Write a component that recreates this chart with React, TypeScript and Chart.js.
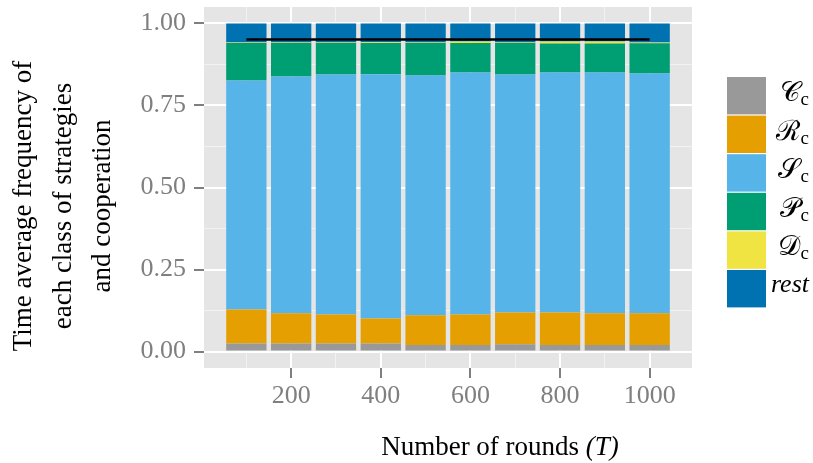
import React, { useEffect, useRef } from 'react';
import { Chart, registerables } from 'chart.js';

Chart.register(...registerables);

// ---- data ----
const rounds = [100, 200, 300, 400, 500, 600, 700, 800, 900, 1000];
const seriesC = [0.025, 0.025, 0.025, 0.025, 0.02, 0.02, 0.022, 0.02, 0.02, 0.02];
const seriesR = [0.103, 0.092, 0.088, 0.076, 0.091, 0.093, 0.097, 0.099, 0.097, 0.097];
const seriesS = [0.698, 0.721, 0.7315, 0.744, 0.7305, 0.7376, 0.7255, 0.7316, 0.7336, 0.7306];
const seriesP = [0.114, 0.102, 0.0955, 0.0955, 0.0985, 0.09, 0.0955, 0.088, 0.088, 0.092];
const seriesD = [0.002, 0.002, 0.002, 0.002, 0.002, 0.004, 0.002, 0.006, 0.006, 0.002];
const seriesRest = [0.058, 0.058, 0.058, 0.0575, 0.058, 0.0554, 0.058, 0.0554, 0.0554, 0.0584];
const cooperation = [0.951, 0.951, 0.951, 0.951, 0.951, 0.951, 0.951, 0.951, 0.951, 0.951];

const xTickValues = [100, 200, 300, 400, 500, 600, 700, 800, 900, 1000];
const xTickLabels = ['', '200', '', '400', '', '600', '', '800', '', '1000'];
const yTickValues = [0, 0.125, 0.25, 0.375, 0.5, 0.625, 0.75, 0.875, 1];
const yTickLabels = ['0.00', '', '0.25', '', '0.50', '', '0.75', '', '1.00'];

const legendMain = ['\u{1D49E}', '\u211B', '\u{1D4AE}', '\u{1D4AB}', '\u{1D49F}', 'rest'];
const legendSub = ['c', 'c', 'c', 'c', 'c', ''];
const seriesColors = ['#999999', '#E69F00', '#56B4E9', '#009E73', '#F0E442', '#0072B2'];

const xTitleMain = 'Number of rounds ';
const xTitleItalic = '(T)';
const yTitleLines = ['Time average frequency of', 'each class of strategies', 'and cooperation'];

const SERIF = '"Liberation Serif", "DejaVu Serif", serif';

const panelBg = {
  id: 'panelBg',
  beforeDraw(chart: any) {
    const { ctx, chartArea } = chart;
    ctx.save();
    ctx.fillStyle = '#E5E5E5';
    ctx.fillRect(chartArea.left, chartArea.top, chartArea.right - chartArea.left, chartArea.bottom - chartArea.top);
    ctx.restore();
  },
};

const decorations = {
  id: 'decorations',
  afterDraw(chart: any) {
    const { ctx, chartArea } = chart;
    ctx.save();
    ctx.fillStyle = '#000000';
    // x title
    ctx.textBaseline = 'alphabetic';
    ctx.textAlign = 'left';
    ctx.font = `27px ${SERIF}`;
    const w1 = ctx.measureText(xTitleMain).width;
    ctx.font = `italic 27px ${SERIF}`;
    const w2 = ctx.measureText(xTitleItalic).width;
    const xStart = 500 - (w1 + w2) / 2;
    ctx.font = `27px ${SERIF}`;
    ctx.fillText(xTitleMain, xStart, 455);
    ctx.font = `italic 27px ${SERIF}`;
    ctx.fillText(xTitleItalic, xStart + w1, 455);

    // y title
    ctx.font = `27px ${SERIF}`;
    ctx.textAlign = 'center';
    const baselines = [31, 70.5, 110];
    yTitleLines.forEach((line, i) => {
      ctx.save();
      ctx.translate(baselines[i], 206);
      ctx.rotate(-Math.PI / 2);
      ctx.fillText(line, 0, 0);
      ctx.restore();
    });

    // legend
    const boxLeft = chartArea.right + 35;
    const boxW = 39;
    const pitch = 38.6;
    const boxH = 37.4;
    const top0 = 77;
    const rightEdge = 809;
    for (let i = 0; i < legendMain.length; i++) {
      const top = top0 + i * pitch;
      ctx.fillStyle = seriesColors[i];
      ctx.fillRect(boxLeft, top, boxW, boxH);
      ctx.fillStyle = '#000000';
      ctx.textAlign = 'left';
      const base = top + 24;
      if (legendSub[i]) {
        ctx.font = `28px ${SERIF}`;
        const mw = ctx.measureText(legendMain[i]).width;
        ctx.font = `19px ${SERIF}`;
        const sw = ctx.measureText(legendSub[i]).width;
        const start = rightEdge - mw - sw - 1;
        ctx.font = `28px ${SERIF}`;
        ctx.fillText(legendMain[i], start, base);
        ctx.font = `19px ${SERIF}`;
        ctx.fillText(legendSub[i], start + mw + 1, base + 4);
      } else {
        ctx.font = `italic 26px ${SERIF}`;
        const mw = ctx.measureText(legendMain[i]).width;
        ctx.fillText(legendMain[i], rightEdge - mw, base - 2);
      }
    }
    ctx.restore();
  },
};

const isMajorX = (v: number) => {
  const i = xTickValues.indexOf(v);
  return i >= 0 && xTickLabels[i] !== '';
};
const isMajorY = (v: number) => {
  const i = yTickValues.findIndex((t) => Math.abs(t - v) < 1e-9);
  return i >= 0 && yTickLabels[i] !== '';
};

export default function App() {
  const canvasRef = useRef<HTMLCanvasElement | null>(null);

  useEffect(() => {
    const canvas = canvasRef.current;
    if (!canvas) return;
    const barNames = ['Cc', 'Rc', 'Sc', 'Pc', 'Dc', 'rest'];
    const barSeries = [seriesC, seriesR, seriesS, seriesP, seriesD, seriesRest];
    const datasets: any[] = [
      {
        type: 'line',
        label: 'cooperation',
        data: rounds.map((r, i) => ({ x: r, y: cooperation[i] })),
        borderColor: '#000000',
        borderWidth: 2.5,
        pointRadius: 0,
        fill: false,
        stack: 'coop',
        order: -1,
        tension: 0,
      },
      ...barSeries.map((s, k) => ({
        type: 'bar',
        label: barNames[k],
        data: rounds.map((r, i) => ({ x: r, y: s[i] })),
        backgroundColor: seriesColors[k],
        borderWidth: 0,
        barPercentage: 0.9,
        categoryPercentage: 1.0,
        stack: 'bars',
        order: 0,
      })),
    ];

    const chart = new Chart(canvas, {
      type: 'bar',
      data: { datasets },
      plugins: [panelBg, decorations],
      options: {
        responsive: false,
        animation: false,
        devicePixelRatio: 1,
        layout: { autoPadding: false, padding: { left: 0, top: 7, right: 121, bottom: 0 } },
        plugins: {
          legend: { display: false },
          tooltip: { enabled: false },
          title: { display: false },
        },
        scales: {
          x: {
            type: 'linear',
            min: 5.5,
            max: 1094.5,
            stacked: true,
            offset: false,
            afterBuildTicks: (ax: any) => {
              ax.ticks = xTickValues.map((v) => ({ value: v }));
            },
            afterFit: (ax: any) => {
              ax.height = 95;
              ax.paddingLeft = 0;
              ax.paddingRight = 0;
            },
            border: { display: false },
            grid: {
              offset: false,
              color: (c: any) => (c.tick && isMajorX(c.tick.value) ? '#FFFFFF' : '#F2F2F2'),
              lineWidth: (c: any) => (c.tick && isMajorX(c.tick.value) ? 2 : 1),
              tickColor: (c: any) => (c.tick && isMajorX(c.tick.value) ? '#7F7F7F' : 'rgba(0,0,0,0)'),
              tickWidth: 2,
              tickLength: 10,
              drawTicks: true,
            },
            ticks: {
              autoSkip: false,
              maxRotation: 0,
              minRotation: 0,
              padding: 3,
              color: '#7F7F7F',
              font: { family: SERIF, size: 26 },
              callback: (v: any) => {
                const i = xTickValues.indexOf(Number(v));
                return i >= 0 ? xTickLabels[i] : '';
              },
            },
          },
          y: {
            type: 'linear',
            min: -0.05,
            max: 1.05,
            stacked: true,
            afterBuildTicks: (ax: any) => {
              ax.ticks = yTickValues.map((v) => ({ value: v }));
            },
            afterFit: (ax: any) => {
              ax.width = 204;
              ax.paddingTop = 0;
              ax.paddingBottom = 0;
            },
            border: { display: false },
            grid: {
              offset: false,
              color: (c: any) => (c.tick && isMajorY(c.tick.value) ? '#FFFFFF' : '#F2F2F2'),
              lineWidth: (c: any) => (c.tick && isMajorY(c.tick.value) ? 2 : 1),
              tickColor: (c: any) => (c.tick && isMajorY(c.tick.value) ? '#7F7F7F' : 'rgba(0,0,0,0)'),
              tickWidth: 2,
              tickLength: 10,
              drawTicks: true,
            },
            ticks: {
              autoSkip: false,
              padding: 8,
              color: '#7F7F7F',
              font: { family: SERIF, size: 26 },
              callback: (v: any) => {
                const i = yTickValues.findIndex((t) => Math.abs(t - Number(v)) < 1e-9);
                return i >= 0 ? yTickLabels[i] : '';
              },
            },
          },
        },
      } as any,
    });
    return () => chart.destroy();
  }, []);

  return (
    <div style={{ position: 'absolute', left: 0, top: 0, width: 813, height: 463, background: '#FFFFFF' }}>
      <canvas ref={canvasRef} width={813} height={463} style={{ display: 'block' }} />
    </div>
  );
}
